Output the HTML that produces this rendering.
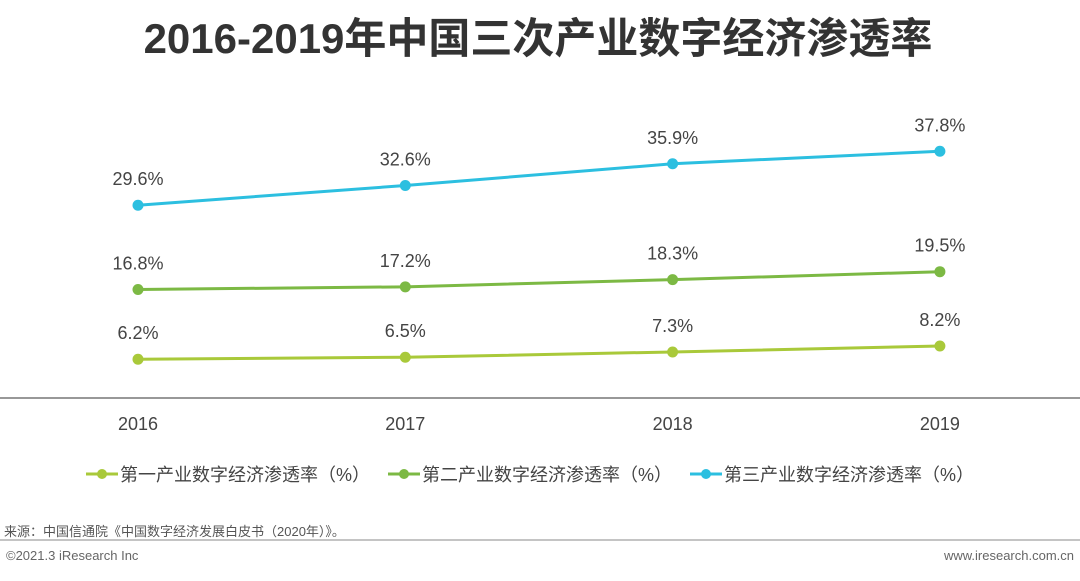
<!DOCTYPE html>
<html><head><meta charset="utf-8"><style>
body{margin:0;width:1080px;height:576px;background:#fff;overflow:hidden;font-family:"Liberation Sans","Noto Sans CJK SC",sans-serif}
svg text{font-family:"Liberation Sans","Noto Sans CJK SC",sans-serif}
</style></head><body>
<svg width="1080" height="576">
<text x="538" y="53" text-anchor="middle" font-size="42" font-weight="bold" fill="#333">2016-2019年中国三次产业数字经济渗透率</text>
<line x1="0" y1="398" x2="1080" y2="398" stroke="#777" stroke-width="1.5"/>
<g id="plot"></g>
<g id="xt"></g>
<g id="legend"></g>
<text x="4" y="536" font-size="13" fill="#555">来源：中国信通院《中国数字经济发展白皮书（2020年）》。</text>
<line x1="0" y1="540" x2="1080" y2="540" stroke="#888" stroke-width="1"/>
<text x="6" y="560" font-size="13" fill="#666">©2021.3 iResearch Inc</text>
<text x="1074" y="560" font-size="13" fill="#666" text-anchor="end">www.iresearch.com.cn</text>
</svg>
<script>
const years=["2016","2017","2018","2019"];
const primary=[6.2,6.5,7.3,8.2];
const secondary=[16.8,17.2,18.3,19.5];
const tertiary=[29.6,32.6,35.9,37.8];
const seriesNames=["第一产业数字经济渗透率（%）","第二产业数字经济渗透率（%）","第三产业数字经济渗透率（%）"];
const NS="http://www.w3.org/2000/svg";
const colors=["#a9c93a","#7cb944","#2cbfe0"];
const xs=i=>138+i*267.3;
const ys=v=>400-v*6.58;
function mk(tag,attrs,parent){const e=document.createElementNS(NS,tag);for(const k in attrs)e.setAttribute(k,attrs[k]);parent.appendChild(e);return e;}
const plot=document.getElementById('plot');
[primary,secondary,tertiary].forEach((s,si)=>{
  const pts=s.map((v,i)=>xs(i)+","+ys(v)).join(" ");
  const pl=mk('polyline',{points:pts,fill:"none",stroke:colors[si],"stroke-width":3},plot);
  
  
  s.forEach((v,i)=>{
    const c=mk('circle',{cx:xs(i),cy:ys(v),r:5.5,fill:colors[si]},plot);
    
    
    const t=mk('text',{x:xs(i),y:ys(v)-20,"text-anchor":"middle","font-size":18,fill:"#444"},plot);
    t.textContent=v.toFixed(1)+"%";
    
    
  });
});
const xt=document.getElementById('xt');
years.forEach((y,i)=>{
  const t=mk('text',{x:xs(i),y:430,"text-anchor":"middle","font-size":18,fill:"#444"},xt);
  t.textContent=y;
  
  
});
const lg=document.getElementById('legend');
const lx=[86,388,690];
seriesNames.forEach((n,i)=>{
  const g=mk('g',{},lg);
  
  
  mk('line',{x1:lx[i],y1:474,x2:lx[i]+32,y2:474,stroke:colors[i],"stroke-width":3},g);
  mk('circle',{cx:lx[i]+16,cy:474,r:5,fill:colors[i]},g);
  const t=mk('text',{x:lx[i]+34,y:481,"font-size":18,fill:"#444"},g);
  t.textContent=n;
});
</script>
</body></html>
